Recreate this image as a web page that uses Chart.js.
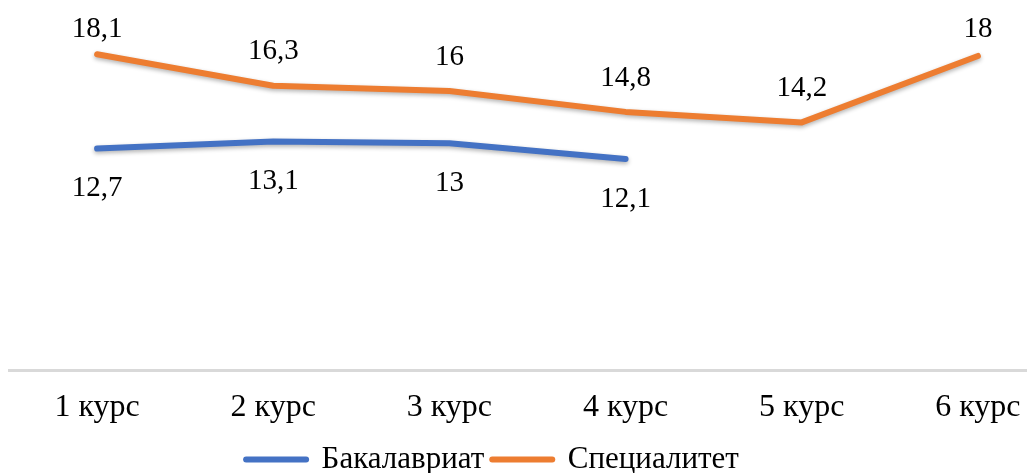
<!DOCTYPE html>
<html>
<head>
<meta charset="utf-8">
<script src="https://cdn.jsdelivr.net/npm/chart.js@4.4.1/dist/chart.umd.min.js"></script>
<style>
  html, body { margin: 0; padding: 0; background: #fff; overflow: hidden; }
  .wrap { position: relative; width: 1066px; height: 485px; }
</style>
</head>
<body>
<div class="wrap"><canvas id="chart"></canvas></div>
<script>
const courses = ['1 курс', '2 курс', '3 курс', '4 курс', '5 курс', '6 курс'];
const bachelor = [12.7, 13.1, 13, 12.1, null, null];
const specialist = [18.1, 16.3, 16, 14.8, 14.2, 18];

const fontFamily = "'Liberation Serif', 'Times New Roman', serif";

// подписи значений (без плагина datalabels)
const valueLabels = {
  id: 'valueLabels',
  afterDatasetsDraw(chart) {
    const ctx = chart.ctx;
    ctx.save();
    ctx.font = '29px ' + fontFamily;
    ctx.fillStyle = '#000';
    ctx.textAlign = 'center';
    ctx.textBaseline = 'middle';
    chart.data.datasets.forEach((ds, i) => {
      const meta = chart.getDatasetMeta(i);
      meta.data.forEach((pt, j) => {
        const v = ds.data[j];
        if (v === null) return;
        let y = ds.labelPos === 'above' ? pt.y - 34 : pt.y + 40;
        if (y < 29) y = 29;
        ctx.fillText(String(v).replace('.', ','), pt.x, y);
      });
    });
    ctx.restore();
  }
};

// лёгкая тень под линиями
const lineShadow = {
  id: 'lineShadow',
  beforeDatasetDraw(chart) {
    const ctx = chart.ctx;
    ctx.save();
    ctx.shadowColor = 'rgba(0,0,0,0.3)';
    ctx.shadowBlur = 4;
    ctx.shadowOffsetY = 2;
  },
  afterDatasetDraw(chart) {
    chart.ctx.restore();
  }
};

// сдвиг легенды влево, как в исходнике
const legendShift = {
  id: 'legendShift',
  afterUpdate(chart) {
    chart.legend.left -= 45;
    chart.legend.right -= 45;
  }
};

new Chart(document.getElementById('chart'), {
  type: 'line',
  data: {
    labels: courses,
    datasets: [
      {
        label: 'Бакалавриат',
        data: bachelor,
        borderColor: '#4472C4',
        backgroundColor: '#4472C4',
        borderWidth: 6,
        borderCapStyle: 'round',
        borderJoinStyle: 'round',
        pointRadius: 0,
        tension: 0,
        labelPos: 'below'
      },
      {
        label: 'Специалитет',
        data: specialist,
        borderColor: '#ED7D31',
        backgroundColor: '#ED7D31',
        borderWidth: 6,
        borderCapStyle: 'round',
        borderJoinStyle: 'round',
        pointRadius: 0,
        tension: 0,
        labelPos: 'above'
      }
    ]
  },
  options: {
    responsive: true,
    maintainAspectRatio: false,
    animation: false,
    layout: { padding: { top: 21, left: 9, right: 0, bottom: 0 } },
    plugins: {
      legend: {
        position: 'bottom',
        labels: {
          usePointStyle: true,
          pointStyle: 'line',
          pointStyleWidth: 60,
          padding: 8,
          color: '#000',
          font: { family: fontFamily, size: 31 },
          generateLabels: (chart) =>
            Chart.defaults.plugins.legend.labels.generateLabels(chart).map(item => ({
              ...item,
              lineWidth: 6,
              lineCap: 'round',
              strokeStyle: chart.data.datasets[item.datasetIndex].borderColor
            }))
        }
      },
      tooltip: { enabled: false }
    },
    scales: {
      x: {
        offset: true,
        grid: { display: true, drawOnChartArea: false, drawTicks: false },
        border: { display: true, color: '#d9d9d9', width: 3 },
        ticks: {
          padding: 18,
          color: '#000',
          font: { family: fontFamily, size: 32 }
        },
        afterFit: (s) => { s.height -= 9; }
      },
      y: {
        display: false,
        min: 0,
        max: 20
      }
    }
  },
  plugins: [lineShadow, valueLabels, legendShift]
});
</script>
</body>
</html>
